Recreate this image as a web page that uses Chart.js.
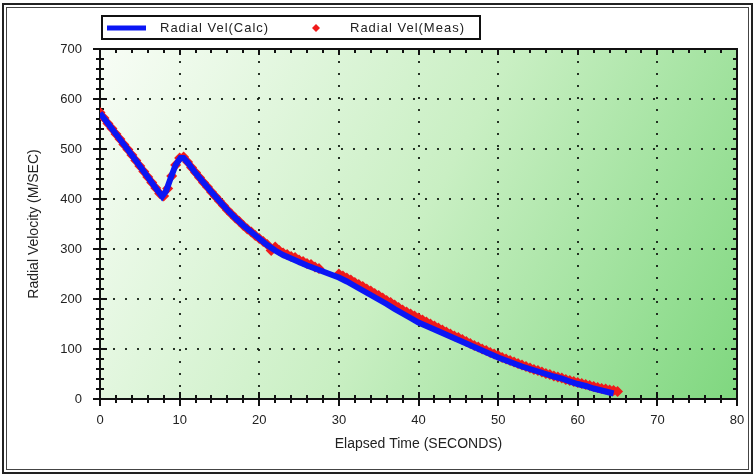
<!DOCTYPE html>
<html>
<head>
<meta charset="utf-8">
<title>Radial Velocity</title>
<script src="https://cdn.jsdelivr.net/npm/chart.js@4.4.0/dist/chart.umd.min.js"></script>
<style>
  html, body { margin: 0; padding: 0; background: #fff; }
  canvas { display: block; }
</style>
</head>
<body>
<canvas id="radialChart" width="754" height="475"></canvas>
<script>
const xTicks = [0, 10, 20, 30, 40, 50, 60, 70, 80];
const yTicks = [0, 100, 200, 300, 400, 500, 600, 700];

const calcLabel = "Radial Vel(Calc)";
const measLabel = "Radial Vel(Meas)";

// calculated curve
const calcTime = [0, 1, 2, 3, 4, 5, 6, 7, 7.8, 8.3, 8.9, 9.5, 10.1, 10.5, 11, 12, 13, 14, 15, 16, 17, 18, 19, 20,
  21, 22, 23, 24, 25, 26, 27, 28, 29, 30, 31, 32, 33, 34, 35, 36, 37, 38, 39, 40, 41, 42, 43, 44, 45, 46, 47, 48,
  49, 50, 51, 52, 53, 54, 55, 56, 57, 58, 59, 60, 61, 62, 63, 64, 64.5];
const calcVel = [572, 551, 530, 509, 488, 466, 444, 422, 405, 416, 443, 468, 482, 482, 473, 452, 433, 414, 396, 378, 362, 347, 334, 321,
  308, 297, 288, 281, 274, 267, 261, 255, 249, 243, 235, 226, 217, 208, 199, 190, 180, 171, 162, 153, 146, 139, 132, 125, 118, 111, 104, 97,
  90, 83, 77, 71, 65, 60, 55, 50, 45, 41, 35, 30, 26, 21, 17, 13, 11];

// measured points
const measTime = [0, 0.5, 1, 1.5, 2, 2.5, 3, 3.5, 4, 4.5, 5, 5.5, 6, 6.5, 7, 7.5, 8, 8.5, 9, 9.5, 10, 10.5, 11, 11.5, 12, 12.5,
  13, 13.5, 14, 14.5, 15, 15.5, 16, 16.5, 17, 17.5, 18, 18.5, 19, 19.5, 20, 20.5, 21, 21.5, 22, 22.5, 23, 23.5, 24, 24.5,
  25, 25.5, 26, 26.5, 27, 27.5, 30, 30.5, 31, 31.5, 32, 32.5, 33, 33.5, 34, 34.5, 35, 35.5, 36, 36.5, 37, 37.5, 38, 38.5,
  39, 39.5, 40, 40.5, 41, 41.5, 42, 42.5, 43, 43.5, 44, 44.5, 45, 45.5, 46, 46.5, 47, 47.5, 48, 48.5, 49, 49.5, 50, 50.5,
  51, 51.5, 52, 52.5, 53, 53.5, 54, 54.5, 55, 55.5, 56, 56.5, 57, 57.5, 58, 58.5, 59, 59.5, 60, 60.5, 61, 61.5, 62, 62.5,
  63, 63.5, 64, 64.5, 65];
const measVel = [573, 562, 551, 541, 530, 520, 509, 499, 488, 477, 466, 455, 444, 433, 422, 411, 406, 421, 446, 468, 482, 484, 474, 463, 453, 443,
  433, 424, 414, 405, 396, 387, 378, 370, 362, 355, 347, 340, 334, 327, 321, 315, 309, 297, 304, 297, 292, 289, 285, 283,
  278, 275, 271, 269, 264, 261, 250, 246, 242, 238, 233, 229, 225, 220, 216, 211, 207, 202, 197, 193, 188, 183, 178, 174,
  170, 166, 162, 158, 154, 150, 146, 142, 138, 134, 130, 126, 123, 119, 115, 111, 107, 104, 100, 97, 93, 90, 87, 83,
  80, 77, 74, 71, 68, 65, 62, 59, 57, 54, 51, 49, 46, 44, 42, 39, 37, 35, 33, 31, 29, 27, 25, 23,
  21, 20, 18, 17, 15];

const FONT = "'Liberation Sans', Arial, sans-serif";
const BLUE = "#0a16f5";
const RED = "#f01a1a";

const toPoints = (xs, ys) => xs.map((x, i) => ({ x, y: ys[i] }));

// white page, green gradient plot area, double frame
const backdrop = {
  id: "backdrop",
  beforeDraw(chart) {
    const { ctx, chartArea: a, width, height } = chart;
    ctx.save();
    ctx.fillStyle = "#fff";
    ctx.fillRect(0, 0, width, height);
    const g = ctx.createLinearGradient(a.left, a.top, a.right, a.bottom);
    g.addColorStop(0, "#f8fdf6");
    g.addColorStop(0.5, "#c9efc3");
    g.addColorStop(1, "#7fd77f");
    ctx.fillStyle = g;
    ctx.fillRect(a.left, a.top, a.right - a.left, a.bottom - a.top);
    ctx.strokeStyle = "#222";
    ctx.lineWidth = 2;
    ctx.strokeRect(3, 4, width - 5, height - 6);
    ctx.lineWidth = 1;
    ctx.strokeStyle = "#444";
    ctx.strokeRect(6.5, 7.5, width - 12, height - 13);
    ctx.restore();
  },
};

// box around plot, crossing ticks on left/bottom, inward ticks on top/right
const axisDecor = {
  id: "axisDecor",
  beforeDatasetsDraw(chart) {
    const { ctx, chartArea: a, scales } = chart;
    const xs = scales.x;
    const ys = scales.y;
    ctx.save();
    ctx.strokeStyle = "#111";
    ctx.lineWidth = 2;
    ctx.strokeRect(a.left, a.top, a.right - a.left, a.bottom - a.top);
    ctx.beginPath();
    for (let v = xs.min; v <= xs.max; v += 2) {
      const px = Math.round(xs.getPixelForValue(v));
      const major = v % 10 === 0;
      const h = major ? 7 : 4;
      ctx.moveTo(px, a.bottom - h);
      ctx.lineTo(px, a.bottom + h);
      ctx.moveTo(px, a.top);
      ctx.lineTo(px, a.top + (major ? 6 : 4));
    }
    for (let v = ys.min; v <= ys.max; v += 20) {
      const py = Math.round(ys.getPixelForValue(v));
      const major = v % 100 === 0;
      const w = major ? 7 : 4;
      ctx.moveTo(a.left - w, py);
      ctx.lineTo(a.left + w, py);
      ctx.moveTo(a.right, py);
      ctx.lineTo(a.right - (major ? 6 : 4), py);
    }
    ctx.stroke();
    ctx.restore();
  },
};

// boxed legend at the top left
const boxLegend = {
  id: "boxLegend",
  afterDraw(chart) {
    const { ctx } = chart;
    const sets = chart.data.datasets;
    ctx.save();
    ctx.fillStyle = "#fff";
    ctx.fillRect(102, 16, 378, 23);
    ctx.strokeStyle = "#111";
    ctx.lineWidth = 2;
    ctx.strokeRect(102, 16, 378, 23);
    ctx.strokeStyle = BLUE;
    ctx.lineWidth = 5;
    ctx.beginPath();
    ctx.moveTo(107, 28);
    ctx.lineTo(146, 28);
    ctx.stroke();
    ctx.fillStyle = RED;
    ctx.beginPath();
    ctx.moveTo(316, 24);
    ctx.lineTo(320, 28);
    ctx.lineTo(316, 32);
    ctx.lineTo(312, 28);
    ctx.closePath();
    ctx.fill();
    ctx.fillStyle = "#222";
    ctx.font = `13px ${FONT}`;
    if ("letterSpacing" in ctx) ctx.letterSpacing = "1px";
    ctx.textBaseline = "middle";
    ctx.fillText(sets[0].label, 160, 28);
    ctx.fillText(sets[1].label, 350, 28);
    ctx.restore();
  },
};

const gridStyle = { color: "rgba(20,30,20,0.9)", lineWidth: 2, drawTicks: false };

new Chart(document.getElementById("radialChart"), {
  type: "scatter",
  data: {
    datasets: [
      {
        label: calcLabel,
        data: toPoints(calcTime, calcVel),
        showLine: true,
        borderColor: BLUE,
        borderWidth: 6,
        pointRadius: 0,
        tension: 0,
      },
      {
        label: measLabel,
        data: toPoints(measTime, measVel),
        pointStyle: "rectRot",
        pointRadius: 5.5,
        borderWidth: 0,
        backgroundColor: RED,
      },
    ],
  },
  options: {
    responsive: false,
    animation: false,
    devicePixelRatio: 1,
    layout: { autoPadding: false, padding: { top: 49, right: 17, left: 0, bottom: 0 } },
    plugins: { legend: { display: false }, tooltip: { enabled: false } },
    scales: {
      x: {
        type: "linear",
        min: 0,
        max: 80,
        afterBuildTicks: (s) => { s.ticks = xTicks.map((v) => ({ value: v })); },
        afterFit: (s) => {
          s.height = 76;
          s.paddingLeft = 0;
          s.paddingRight = 0;
        },
        grid: gridStyle,
        border: { display: true, color: "#111", width: 2, dash: [2, 10] },
        ticks: { padding: 14, color: "#222", font: { family: FONT, size: 13 } },
        title: {
          display: true,
          text: "Elapsed Time (SECONDS)",
          color: "#222",
          font: { family: FONT, size: 14 },
          padding: { bottom: 22 },
        },
      },
      y: {
        type: "linear",
        min: 0,
        max: 700,
        afterBuildTicks: (s) => { s.ticks = yTicks.map((v) => ({ value: v })); },
        afterFit: (s) => { s.width = 100; },
        grid: gridStyle,
        border: { display: true, color: "#111", width: 2, dash: [2, 10] },
        ticks: { padding: 18, color: "#222", font: { family: FONT, size: 13 } },
        title: {
          display: true,
          text: "Radial Velocity (M/SEC)",
          color: "#222",
          font: { family: FONT, size: 14 },
          padding: { top: 26 },
        },
      },
    },
  },
  plugins: [backdrop, axisDecor, boxLegend],
});
</script>
</body>
</html>
